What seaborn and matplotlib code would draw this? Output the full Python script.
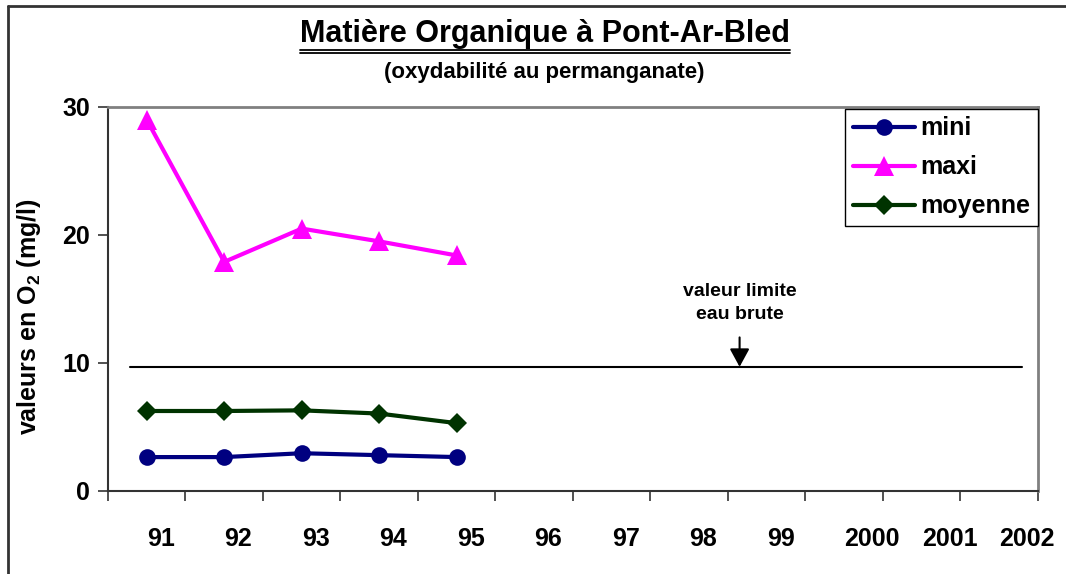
import matplotlib
matplotlib.use("Agg")
import matplotlib.pyplot as plt
from matplotlib.lines import Line2D
import seaborn as sns
import numpy as np
import pandas as pd

years = ["91", "92", "93", "94", "95", "96", "97", "98", "99", "2000", "2001", "2002"]
mesures = ["91", "92", "93", "94", "95"]
mini = [2.65, 2.65, 2.95, 2.8, 2.65]
maxi = [29.0, 17.9, 20.5, 19.5, 18.4]
moyenne = [6.25, 6.25, 6.3, 6.05, 5.3]
limite = 9.7

sns.set_style("white")
plt.rcParams["font.family"] = ["Liberation Sans", "DejaVu Sans"]
plt.rcParams["font.weight"] = "bold"
plt.rcParams["text.color"] = "black"
plt.rcParams["axes.labelcolor"] = "black"
plt.rcParams["xtick.color"] = "black"
plt.rcParams["ytick.color"] = "black"
plt.rcParams["mathtext.fontset"] = "custom"
plt.rcParams["mathtext.rm"] = "Liberation Sans:bold"
plt.rcParams["mathtext.bf"] = "Liberation Sans:bold"

pos = {y: i for i, y in enumerate(years)}
df = pd.DataFrame({
    "annee": mesures * 3,
    "x": [pos[m] for m in mesures] * 3,
    "val": mini + maxi + moyenne,
    "serie": ["mini"] * 5 + ["maxi"] * 5 + ["moyenne"] * 5,
})

colors = {"mini": "#000080", "maxi": "#FF00FF", "moyenne": "#003300"}
marks = {"mini": "o", "maxi": "^", "moyenne": "D"}
msize = {"mini": 12, "maxi": 14, "moyenne": 10}

fig = plt.figure(figsize=(10.66, 5.74), dpi=100)
ax = fig.add_axes([0.1013, 0.1446, 0.8724, 0.669])

for s in ["mini", "maxi", "moyenne"]:
    sns.lineplot(data=df[df.serie == s], x="x", y="val", ax=ax, color=colors[s],
                 marker=marks[s], markersize=msize[s], markeredgewidth=0,
                 linewidth=3, label=None, legend=False)

# valeur limite
ax.plot([-0.22, 11.29], [limite, limite], color="black", lw=1.5)
ax.annotate("", xy=(7.65, limite), xytext=(7.65, 12.0),
            arrowprops=dict(arrowstyle="-|>,head_width=0.3,head_length=0.55",
                            mutation_scale=20, color="black", lw=1.5,
                            shrinkA=0, shrinkB=0))
ax.text(7.65, 14.7, "valeur limite\neau brute", ha="center", va="center",
        fontsize=14, fontweight="bold", linespacing=1.45)

ax.set_xlim(-0.5, 11.5)
ax.set_ylim(0, 30)
ax.set_yticks([0, 10, 20, 30])
ax.set_yticklabels(["0", "10", "20", "30"], fontsize=18, fontweight="bold")
ax.set_xticks(np.arange(-0.5, 12, 1))
ax.set_xticklabels([])
ax.set_xticks(np.arange(len(years)), minor=True)
ax.set_xticklabels(years, minor=True, fontsize=18, fontweight="bold", ha="left")
ax.tick_params(axis="x", which="minor", length=0, pad=26)
ax.tick_params(axis="both", which="major", direction="out", length=7, width=1.2,
               color="#333333", left=True, bottom=True)
ax.tick_params(axis="y", which="major", pad=6)
ax.set_xlabel("")
ax.set_ylabel(r"valeurs en O$_{\mathrm{2}}$ (mg/l)", fontsize=18, fontweight="bold")
ax.yaxis.set_label_coords(-0.07, 0.455)

for side in ["left", "bottom"]:
    ax.spines[side].set_color("#333333")
    ax.spines[side].set_linewidth(1.5)
for side in ["top", "right"]:
    ax.spines[side].set_color("#808080")
    ax.spines[side].set_linewidth(2)

handles = [Line2D([], [], color=colors[s], marker=marks[s], markersize=msize[s],
                  markeredgewidth=0, lw=3) for s in ["mini", "maxi", "moyenne"]]
leg = ax.legend(handles, ["mini", "maxi", "moyenne"], loc="upper right",
                bbox_to_anchor=(1.0, 0.995), prop={"size": 18, "weight": "bold"},
                frameon=True, fancybox=False, framealpha=1, edgecolor="black",
                handlelength=2.5, handletextpad=0.2, labelspacing=0.6,
                borderpad=0.3, borderaxespad=0)
leg.get_frame().set_linewidth(1)

title = fig.text(0.511, 0.94, "Matière Organique à Pont-Ar-Bled", ha="center",
                 va="center", fontsize=22, fontweight="bold")
fig.text(0.511, 0.873, "(oxydabilité au permanganate)", ha="center", va="center",
         fontsize=16, fontweight="bold")

# double soulignement du titre
fig.canvas.draw()
bb = title.get_window_extent(fig.canvas.get_renderer())
x0, x1 = bb.x0 / fig.bbox.width, bb.x1 / fig.bbox.width
for yy in [bb.y0 - 1, bb.y0 - 4]:
    fig.add_artist(Line2D([x0, x1], [yy / fig.bbox.height] * 2, color="black", lw=1.3))

# cadre du graphique
fig.add_artist(Line2D([8 / 1066, 8 / 1066], [0, 1 - 6 / 574], color="#333333", lw=2))
fig.add_artist(Line2D([8 / 1066, 1], [1 - 6 / 574, 1 - 6 / 574], color="#333333", lw=2))

fig.savefig("out.png", dpi=100, facecolor="white")
